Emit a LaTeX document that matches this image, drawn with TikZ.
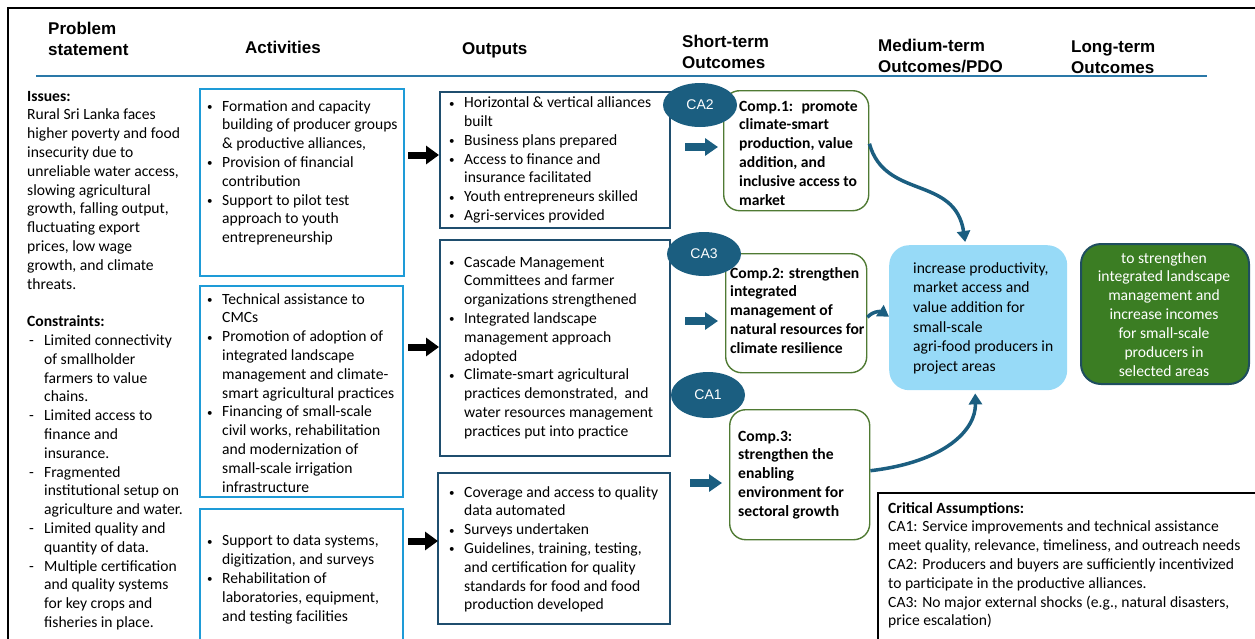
\documentclass[tikz,border=0pt]{standalone}
\usepackage{fontspec}
\setmainfont{Carlito}
\newfontfamily\hdfont{Liberation Sans}
\usetikzlibrary{shapes.geometric,arrows.meta,calc}
\definecolor{actblue}{HTML}{1E9BD7}
\definecolor{outblue}{HTML}{1F4E6E}
\definecolor{compgreen}{HTML}{4F7A33}
\definecolor{cateal}{HTML}{1B5E80}
\definecolor{midblue}{HTML}{97DAF7}
\definecolor{longgreen}{HTML}{3B7D23}
\definecolor{longborder}{HTML}{1F4E5F}
\definecolor{hdline}{HTML}{2A78A8}
\newcommand\bl{\makebox[15pt][l]{\raisebox{0.6pt}{\fontsize{11}{11}\selectfont •}}}
\newcommand\ind{\hspace*{15pt}}
\newcommand\dsh{\hspace*{2pt}\makebox[15pt][l]{-}}
\newcommand\dind{\hspace*{17pt}}
\begin{document}
\begin{tikzpicture}[x=1pt,y=-1pt,
  body/.style={inner sep=0pt, align=left, anchor=base west, font=\fontsize{15.6}{18.8}\selectfont},
  hd/.style={inner sep=0pt, align=left, anchor=base west, font=\hdfont\bfseries\fontsize{17}{21}\selectfont},
  actbox/.style={draw=actblue, line width=2.2pt, anchor=north west, inner sep=0pt},
  outbox/.style={draw=outblue, line width=2pt, anchor=north west, inner sep=0pt},
  compbox/.style={draw=compgreen, line width=1.4pt, rounded corners=16pt, anchor=north west, inner sep=0pt},
  caoval/.style={ellipse, fill=cateal, text=white, font=\hdfont\fontsize{14}{16}\selectfont, minimum width=74pt, minimum height=44pt, inner sep=0pt},
  blackarrow/.style={line width=7pt, -{Triangle[length=13pt,width=18pt]}},
  bluearrow/.style={cateal, line width=8pt, -{Triangle[length=13pt,width=17pt]}},
  curvearrow/.style={draw=cateal, line width=3.5pt, -{Triangle[length=11pt,width=13pt]}}
]
\useasboundingbox (0,0) rectangle (1255,638);
% frame
\draw[line width=2pt] (8,640) -- (8,8) -- (1257,8);
% headers (anchor = baseline of last line)
\node[hd] (h1) at (48,55) {Problem\\statement};
\node[hd] (h2) at (245,53) {Activities};
\node[hd] (h3) at (462,54) {Outputs};
\node[hd] (h4) at (682,68) {Short-term\\Outcomes};
\node[hd] (h5) at (878,72) {Medium-term\\Outcomes/PDO};
\node[hd] (h6) at (1071,73) {Long-term\\Outcomes};
\coordinate (hl1) at (36,76);
\coordinate (hl2) at (1207,76);
\draw[hdline, line width=1.5pt] (hl1) -- (hl2);
% problem statement
\node[body] (iss) at (27,289) {\textbf{Issues:}\\Rural Sri Lanka faces\\higher poverty and food\\insecurity due to\\unreliable water access,\\slowing agricultural\\growth, falling output,\\fluctuating export\\prices, low wage\\growth, and climate\\threats.};
\node[body] (cons) at (27,627.5) {\textbf{Constraints:}\\\dsh Limited connectivity\\\dind of smallholder\\\dind farmers to value\\\dind chains.\\\dsh Limited access to\\\dind finance and\\\dind insurance.\\\dsh Fragmented\\\dind institutional setup on\\\dind agriculture and water.\\\dsh Limited quality and\\\dind quantity of data.\\\dsh Multiple certification\\\dind and quality systems\\\dind for key crops and\\\dind fisheries in place.};
% activity boxes
\node[actbox, minimum width=204pt, minimum height=187pt] (a1) at (199,88) {};
\node[actbox, minimum width=203pt, minimum height=211pt] (a2) at (199,285) {};
\node[actbox, minimum width=203pt, minimum height=132pt] (a3) at (199,508) {};
\node[body] (a1t) at (207,242.6) {\bl Formation and capacity\\\ind building of producer groups\\\ind \& productive alliances,\\\bl Provision of financial\\\ind contribution\\\bl Support to pilot test\\\ind approach to youth\\\ind entrepreneurship};
\node[body] (a2t) at (207,492) {\bl Technical assistance to\\\ind CMCs\\\bl Promotion of adoption of\\\ind integrated landscape\\\ind management and climate-\\\ind smart agricultural practices\\\bl Financing of small-scale\\\ind civil works, rehabilitation\\\ind and modernization of\\\ind small-scale irrigation\\\ind infrastructure};
\node[body] (a3t) at (207,621) {\bl Support to data systems,\\\ind digitization, and surveys\\\bl Rehabilitation of\\\ind laboratories, equipment,\\\ind and testing facilities};
% output boxes
\node[outbox, minimum width=230pt, minimum height=136pt] (o1) at (439,91) {};
\node[outbox, minimum width=230pt, minimum height=216pt] (o2) at (439,239) {};
\node[outbox, minimum width=232pt, minimum height=151pt] (o3) at (437,472) {};
\node[body] (o1t) at (449,220.5) {\bl Horizontal \& vertical alliances\\\ind built\\\bl Business plans prepared\\\bl Access to finance and\\\ind insurance facilitated\\\bl Youth entrepreneurs skilled\\\bl Agri-services provided};
\node[body] (o2t) at (449,436.2) {\bl Cascade Management\\\ind Committees and farmer\\\ind organizations strengthened\\\bl Integrated landscape\\\ind management approach\\\ind adopted\\\bl Climate-smart agricultural\\\ind practices demonstrated,~ and\\\ind water resources management\\\ind practices put into practice};
\node[body] (o3t) at (449,609.8) {\bl Coverage and access to quality\\\ind data automated\\\bl Surveys undertaken\\\bl Guidelines, training, testing,\\\ind and certification for quality\\\ind standards for food and food\\\ind production developed};
% black arrows
\coordinate (b1s) at (408,155); \coordinate (b1e) at (439,155);
\coordinate (b2s) at (408,347); \coordinate (b2e) at (439,347);
\coordinate (b3s) at (408,541); \coordinate (b3e) at (438,541);
\draw[blackarrow] (b1s) -- (b1e);
\draw[blackarrow] (b2s) -- (b2e);
\draw[blackarrow] (b3s) -- (b3e);
% blue arrows
\coordinate (u1s) at (685,147); \coordinate (u1e) at (718,147);
\coordinate (u2s) at (685,321); \coordinate (u2e) at (718,321);
\coordinate (u3s) at (690,483); \coordinate (u3e) at (722,483);
\draw[bluearrow] (u1s) -- (u1e);
\draw[bluearrow] (u2s) -- (u2e);
\draw[bluearrow] (u3s) -- (u3e);
% component boxes
\node[compbox, minimum width=145pt, minimum height=120pt] (c1) at (723,90) {};
\node[compbox, minimum width=141pt, minimum height=119pt] (c2) at (725,253) {};
\node[compbox, minimum width=140pt, minimum height=130pt] (c3) at (729,409) {};
\node[body, font=\bfseries\fontsize{15.6}{18.9}\selectfont] (c1t) at (739,205.5) {Comp.1:~ promote\\climate-smart\\production, value\\addition, and\\inclusive access to\\market};
\node[body, font=\bfseries\fontsize{15.6}{18.9}\selectfont] (c2t) at (730,353.6) {Comp.2: strengthen\\integrated\\management of\\natural resources for\\climate resilience};
\node[body, font=\bfseries\fontsize{15.6}{18.9}\selectfont] (c3t) at (738,516.6) {Comp.3:\\strengthen the\\enabling\\environment for\\sectoral growth};
% medium-term and long-term
\node[fill=midblue, rounded corners=20pt, minimum width=178pt, minimum height=145pt, anchor=north west, inner sep=0pt] (mid) at (889,245) {};
\node[body, font=\fontsize{15.6}{19.7}\selectfont] (midt) at (913,371.5) {increase productivity,\\market access and\\value addition for\\small-scale\\agri-food producers in\\project areas};
\node[fill=longgreen, draw=longborder, line width=2pt, rounded corners=20pt, minimum width=168pt, minimum height=140pt, anchor=north west, inner sep=0pt] (long) at (1080,243) {};
\node[inner sep=0pt, align=center, anchor=base, text=white, font=\fontsize{15.6}{18.9}\selectfont] (longt) at (1164,376.4) {to strengthen\\integrated landscape\\management and\\increase incomes\\for small-scale\\producers in\\selected areas};
% curved arrows
\draw[curvearrow] ([yshift=7pt]c1.east) .. controls (885,200) and (955,175) .. ([xshift=-13pt,yshift=3pt]mid.north);
\draw[curvearrow] ([yshift=-4pt]c2.east) .. controls (874,310) and (882,312) .. ([yshift=1pt]mid.west);
\draw[curvearrow] ([yshift=4pt]c3.east) .. controls (945,462) and (976,430) .. ([xshift=-3pt,yshift=-3pt]mid.south);
% CA ovals
\node[caoval] (ca2) at (700,105) {CA2};
\node[caoval] (ca3) at (704,254) {CA3};
\node[caoval, minimum height=46pt] (ca1) at (708,395) {CA1};
% critical assumptions
\node[draw=black, line width=2pt, minimum width=380pt, minimum height=147pt, anchor=north west, inner sep=0pt] (cab) at (877,492) {};
\node[body] (cat) at (888,625.8) {\textbf{Critical Assumptions:}\\CA1: Service improvements and technical assistance\\meet quality, relevance, timeliness, and outreach needs\\CA2: Producers and buyers are sufficiently incentivized\\to participate in the productive alliances.\\CA3: No major external shocks (e.g., natural disasters,\\price escalation)};
\end{tikzpicture}
\end{document}
